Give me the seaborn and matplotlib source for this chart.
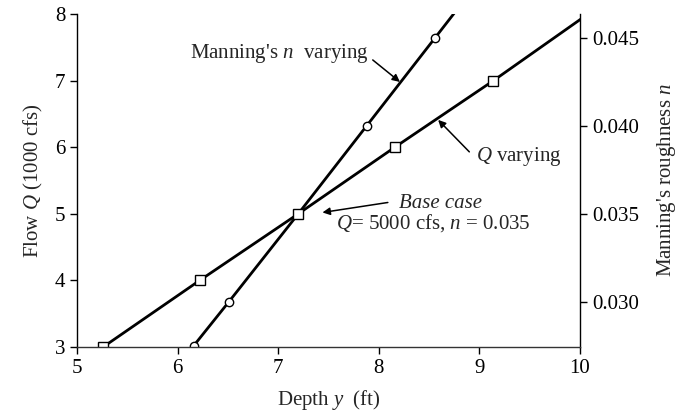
import matplotlib
matplotlib.use("Agg")
import matplotlib.pyplot as plt
import seaborn as sns
import pandas as pd

# Depth response when flow varies (n held at 0.035)
depth_q = [5.26, 6.22, 7.20, 8.16, 9.14, 10.08]
flow_q = [3, 4, 5, 6, 7, 8]

# Depth response when Manning's n varies (Q held at 5000 cfs)
depth_n = [6.16, 6.51, 7.20, 7.88, 8.56, 8.90]
rough_n = [0.0275, 0.030, 0.035, 0.040, 0.045, 0.0475]

x_ticks = [5, 6, 7, 8, 9, 10]
q_ticks = [3, 4, 5, 6, 7, 8]
n_ticks = [0.030, 0.035, 0.040, 0.045]
n_tick_labels = ["0.030", "0.035", "0.040", "0.045"]

sns.set_style("ticks")
plt.rcParams["font.family"] = ["Liberation Serif", "DejaVu Serif"]
plt.rcParams["mathtext.fontset"] = "custom"
plt.rcParams["mathtext.rm"] = "Liberation Serif"
plt.rcParams["mathtext.it"] = "Liberation Serif:italic"

FS = 15

fig = plt.figure(figsize=(6.77, 4.19), dpi=100)
ax = fig.add_axes([0.1137, 0.1718, 0.7430, 0.7948])
ax2 = ax.twinx()

df_q = pd.DataFrame({"depth": depth_q, "flow": flow_q})
df_n = pd.DataFrame({"depth": depth_n, "n": rough_n})

sns.lineplot(data=df_n, x="depth", y="n", ax=ax2, sort=False, color="black",
             lw=2.0, marker="o", markersize=6, markerfacecolor="white",
             markeredgecolor="black", markeredgewidth=1)
sns.lineplot(data=df_q, x="depth", y="flow", ax=ax, sort=False, color="black",
             lw=2.0, marker="s", markersize=6.5, markerfacecolor="white",
             markeredgecolor="black", markeredgewidth=1)

# flow axis drawn on top so the base-case square shows
ax.set_zorder(ax2.get_zorder() + 1)
ax.patch.set_visible(False)

ax.set_xlim(5, 10)
ax.set_ylim(3, 8)
ax2.set_ylim(0.02743, 0.04635)
ax.set_xticks(x_ticks)
ax.set_xticklabels([str(v) for v in x_ticks])
ax.set_yticks(q_ticks)
ax.set_yticklabels([str(v) for v in q_ticks])
ax2.set_yticks(n_ticks)
ax2.set_yticklabels(n_tick_labels)

for a in (ax, ax2):
    a.spines["top"].set_visible(False)
    for s in a.spines.values():
        s.set_linewidth(1.0)
        s.set_color("black")
    a.tick_params(direction="out", length=5, width=1, labelsize=FS, colors="black")
ax.spines["right"].set_visible(False)
ax2.spines["left"].set_visible(False)
ax2.spines["bottom"].set_visible(False)
ax.spines["bottom"].set_color("#333333")

ax.set_xlabel("Depth $y$  (ft)", fontsize=FS, labelpad=7)
ax.set_ylabel("Flow $Q$ (1000 cfs)", fontsize=FS, labelpad=7)
ax2.set_ylabel("Manning's roughness $n$", fontsize=FS, labelpad=12)

arrow = dict(arrowstyle="-|>", color="black", lw=1.1, mutation_scale=11,
             shrinkA=0, shrinkB=0)

ax.text(7.90, 7.41, "Manning's $n$  varying", fontsize=FS, ha="right", va="center")
ax.annotate("", xy=(8.21, 6.98), xytext=(7.94, 7.31), arrowprops=arrow)

ax.text(8.97, 5.86, "$Q$ varying", fontsize=FS, ha="left", va="center")
ax.annotate("", xy=(8.59, 6.41), xytext=(8.90, 5.93), arrowprops=arrow)

ax.text(8.20, 5.16, "Base case", fontsize=FS, ha="left", va="center",
        fontstyle="italic")
ax.annotate("", xy=(7.44, 5.02), xytext=(8.09, 5.17), arrowprops=arrow)
ax.text(7.57, 4.86, "$Q$= 5000 cfs, $n$ = 0.035", fontsize=FS, ha="left",
        va="center")

fig.savefig("out.png", dpi=100)
